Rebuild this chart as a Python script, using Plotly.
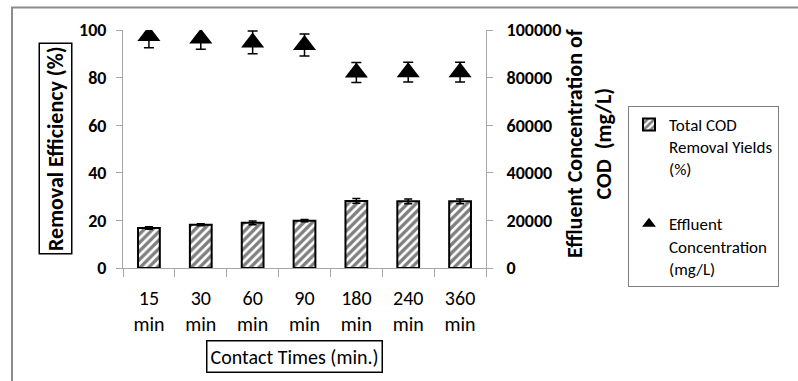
import plotly.graph_objects as go

categories = ["15<br>min", "30<br>min", "60<br>min", "90<br>min", "180<br>min", "240<br>min", "360<br>min"]
removal_pct = [16.8, 18.2, 19.0, 19.9, 28.2, 28.0, 28.0]
removal_err = [0.5, 0.4, 0.8, 0.5, 1.0, 1.0, 1.0]
effluent_mgL = [97500, 96400, 94800, 93700, 82100, 82300, 82300]
effluent_err = [5000, 4500, 4800, 4600, 4200, 4200, 4200]
y_ticks = [0, 20, 40, 60, 80, 100]
y2_ticks = [0, 20000, 40000, 60000, 80000, 100000]
y2_ticktext = [str(v) for v in y2_ticks]

W, H = 798, 381
ML, MR, MT, MB = 123, 312, 30, 113
PW = W - ML - MR
PH = H - MT - MB

def px2x(px):
    return (px - ML) / PW

def px2y(py):
    return (H - MB - py) / PH

FONT = "Carlito, Lato, 'Open Sans', sans-serif"
AXIS_GRAY = "#a6a6a6"

fig = go.Figure()
fig.add_trace(go.Bar(
    x=categories, y=removal_pct, name="Total COD<br>Removal Yields<br>(%)",
    width=0.42,
    marker=dict(color="white", line=dict(color="black", width=2),
                pattern=dict(shape="/", fgcolor="black", bgcolor="white", size=6, solidity=0.55)),
    error_y=dict(type="data", array=removal_err, color="black", thickness=1.5, width=4),
    legendgroup="a",
))
fig.add_trace(go.Scatter(
    x=categories, y=effluent_mgL, yaxis="y2", mode="markers",
    name="Effluent<br>Concentration<br>(mg/L)",
    marker=dict(symbol="triangle-up", size=20, color="black"),
    error_y=dict(type="data", array=effluent_err, color="black", thickness=1.5, width=5),
    legendgroup="b",
))

fig.update_layout(
    width=W, height=H,
    margin=dict(l=ML, r=MR, t=MT, b=MB),
    paper_bgcolor="white", plot_bgcolor="white",
    font=dict(family=FONT, size=17, color="black"),
    showlegend=True,
    legend=dict(x=px2x(628), y=px2y(106), xanchor="left", yanchor="top",
                bordercolor="#808080", borderwidth=1, bgcolor="white",
                font=dict(size=17), itemsizing="constant", tracegroupgap=30,
                itemwidth=30, valign="top"),
    xaxis=dict(range=[-0.5, 6.5], showline=True, linecolor=AXIS_GRAY, linewidth=1,
               ticks="outside", tickson="boundaries", ticklen=8, tickcolor=AXIS_GRAY,
               tickfont=dict(size=20), ticklabelstandoff=12, showgrid=False, zeroline=False),
    yaxis=dict(range=[0, 100], tickvals=y_ticks, showline=True, linecolor=AXIS_GRAY, linewidth=1,
               ticks="outside", ticklen=6, tickcolor=AXIS_GRAY, showgrid=False, zeroline=False,
               tickfont=dict(size=18, weight="bold"), ticklabelstandoff=6),
    yaxis2=dict(range=[0, 100000], tickvals=y2_ticks, ticktext=y2_ticktext, overlaying="y", side="right",
                showline=True, linecolor=AXIS_GRAY, linewidth=1,
                ticks="outside", ticklen=6, tickcolor=AXIS_GRAY, showgrid=False, zeroline=False,
                tickfont=dict(size=18, weight="bold"), ticklabelstandoff=10),
)

fig.add_annotation(
    text="<b>Removal Efficiency (%)</b>", textangle=-90,
    xref="paper", yref="paper", x=px2x(55.5), y=px2y(149), xanchor="center", yanchor="middle",
    showarrow=False, font=dict(size=22), bordercolor="black", borderwidth=1.5, borderpad=2,
    bgcolor="white",
)
fig.add_annotation(
    text="<b>Effluent Concentration of<br>COD  (mg/L)</b>", textangle=-90,
    xref="paper", yref="paper", x=px2x(589), y=px2y(144), xanchor="center", yanchor="middle",
    showarrow=False, font=dict(size=22),
)
fig.add_annotation(
    text="Contact Times (min.)",
    xref="paper", yref="paper", x=px2x(294), y=px2y(356.5), xanchor="center", yanchor="middle",
    showarrow=False, font=dict(size=20), bordercolor="black", borderwidth=1.5, borderpad=3,
    bgcolor="white",
)

# outer chart frame
fig.add_shape(type="line", xref="paper", yref="paper", x0=px2x(12), x1=px2x(12),
              y0=px2y(7), y1=px2y(H + 2), line=dict(color="#8c8c8c", width=2))
fig.add_shape(type="line", xref="paper", yref="paper", x0=px2x(11), x1=px2x(W + 2),
              y0=px2y(7.5), y1=px2y(7.5), line=dict(color="#8c8c8c", width=2))

fig.write_html("out.html")
